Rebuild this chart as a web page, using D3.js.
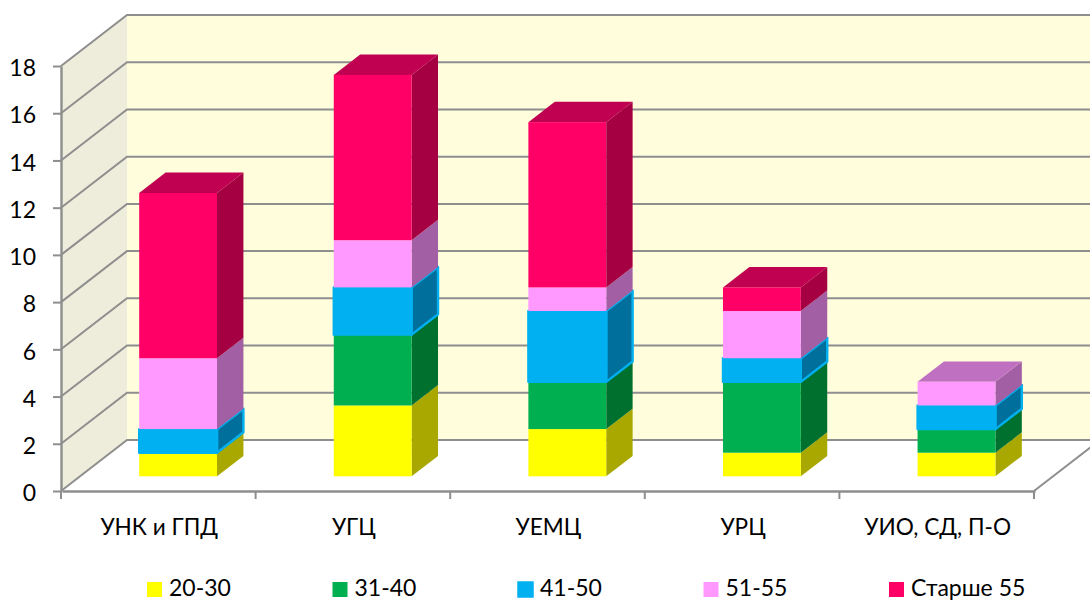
<!DOCTYPE html>
<html><head><meta charset="utf-8">
<script src="https://cdnjs.cloudflare.com/ajax/libs/d3/7.8.5/d3.min.js"></script>
<style>html,body{margin:0;padding:0;background:#fff;overflow:hidden}svg{display:block}text{font-family:Lato,"Open Sans",sans-serif;fill:#000}</style>
</head><body><svg id="c" width="1090" height="601"></svg>
<script>
const categories = ["УНК и ГПД","УГЦ","УЕМЦ","УРЦ","УИО, СД, П-О"];
const seriesNames = ["20-30","31-40","41-50","51-55","Старше 55"];
const age2030 = [1,3,2,1,1];
const age3140 = [0,3,2,3,1];
const age4150 = [1,2,3,1,1];
const age5155 = [3,2,1,2,1];
const ageOver55 = [7,7,7,1,0];
const yTicks = [0,2,4,6,8,10,12,14,16,18];
const seriesValues = [age2030,age3140,age4150,age5155,ageOver55];
const frontColors = ["#ffff00","#00b050","#00b0f0","#ff99ff","#ff0066"];
const sideColors  = ["#a8a800","#00702f","#006f9b","#a35fa3","#a50042"];
const topColors   = ["#c4c400","#008a3e","#0089bb","#c070c0","#c00050"];

const svg = d3.select("#c");
const x = d3.scaleBand().domain(categories).range([61,1034]).paddingInner(0.6).paddingOuter(0.3);
const y = d3.scaleLinear().domain([0,18]).range([491,66]);
// projected depth axis: 0 = front plane, 1 = back wall
const dx = d3.scaleLinear().domain([0,1]).range([0,66]);
const dy = d3.scaleLinear().domain([0,1]).range([0,-51]);
const depthFront = 0.3, depthBack = 0.7;
const P = (px,py)=>[px,py].join(",");
const grid = "#8e8e8e";

// left wall and back wall
svg.append("polygon").attr("fill","#eeeddb")
  .attr("points",[P(x.range()[0],y(18)),P(x.range()[0]+dx(1),y(18)+dy(1)),P(x.range()[0]+dx(1),y(0)+dy(1)),P(x.range()[0],y(0))].join(" "));
svg.append("polygon").attr("fill","#fffddc")
  .attr("points",[P(x.range()[0]+dx(1),y(18)+dy(1)),P(x.range()[1]+dx(1),y(18)+dy(1)),P(x.range()[1]+dx(1),y(0)+dy(1)),P(x.range()[0]+dx(1),y(0)+dy(1))].join(" "));
// gridlines
yTicks.forEach(t=>{
  svg.append("polyline").attr("fill","none").attr("stroke",grid).attr("stroke-width",2)
    .attr("points",[P(x.range()[0],y(t)),P(x.range()[0]+dx(1),y(t)+dy(1)),P(x.range()[1]+dx(1),y(t)+dy(1))].join(" "));
});
svg.append("line").attr("x1",x.range()[1]).attr("y1",y(0)).attr("x2",x.range()[1]+dx(1)).attr("y2",y(0)+dy(1))
  .attr("stroke",grid).attr("stroke-width",2);

// axes
const yAxis = d3.axisLeft(y).tickValues(yTicks).tickSize(8).tickPadding(17).tickSizeOuter(0);
const gy = svg.append("g").attr("transform",`translate(${x.range()[0]},0)`).call(yAxis);
const xAxis = d3.axisBottom(x).tickSize(0).tickPadding(28).tickSizeOuter(0);
const gx = svg.append("g").attr("transform",`translate(1,${y(0)})`).call(xAxis);
[gy,gx].forEach(g=>{
  g.selectAll("path.domain").attr("stroke",grid).attr("stroke-width",2.4);
  g.selectAll(".tick line").attr("stroke",grid).attr("stroke-width",2);
  g.selectAll("text").attr("font-size",23).attr("font-family","Lato").attr("fill","#000");
});
gy.selectAll("text").attr("dy","0.42em");
gx.selectAll("text").attr("font-size",22.6);
// category boundary ticks
d3.range(categories.length+1).forEach(i=>{
  const tx = x.range()[0]+i*x.step();
  svg.append("line").attr("x1",tx).attr("x2",tx).attr("y1",y(0)).attr("y2",y(0)+8).attr("stroke",grid).attr("stroke-width",2);
});

// bars
const ox = dx(depthFront), oy = dy(depthFront)+0.6;
const sx = dx(depthBack-depthFront), sy = dy(depthBack-depthFront);
categories.forEach((c,ci)=>{
  let acc = 0;
  seriesValues.forEach((vals,si)=>{
    const v = vals[ci];
    if(!v) return;
    const x0 = x(c)+ox, x1 = x0+x.bandwidth();
    const yb = y(acc)+oy, yt = y(acc+v)+oy;
    acc += v;
    const isTop = seriesValues.slice(si+1).every(s=>!s[ci]);
    const outline = si===2 ? {stroke:frontColors[2],w:2.4} : {stroke:"none",w:0};
    const g = svg.append("g");
    g.append("polygon").attr("fill",sideColors[si]).attr("stroke",outline.stroke).attr("stroke-width",outline.w).attr("stroke-linejoin","round")
      .attr("points",[P(x1,yb),P(x1+sx,yb+sy),P(x1+sx,yt+sy),P(x1,yt)].join(" "));
    if(isTop) g.append("polygon").attr("fill",topColors[si])
      .attr("points",[P(x0,yt),P(x0+sx,yt+sy),P(x1+sx,yt+sy),P(x1,yt)].join(" "));
    g.append("rect").attr("x",x0).attr("y",yt).attr("width",x1-x0).attr("height",yb-yt)
      .attr("fill",frontColors[si]).attr("stroke",outline.stroke).attr("stroke-width",outline.w).attr("stroke-linejoin","round");
  });
});

// legend
const lx = d3.scalePoint().domain(seriesNames).range([147,889]);
seriesNames.forEach((n,i)=>{
  const s = svg.append("g").attr("transform",`translate(${lx(n)},582)`);
  s.append("rect").attr("width",15).attr("height",15).attr("fill",frontColors[i])
    .attr("stroke",i===2?frontColors[2]:"none").attr("stroke-width",i===2?1.5:0);
  s.append("text").attr("x",22).attr("y",14).attr("font-size",23).text(n);
});
</script></body></html>
